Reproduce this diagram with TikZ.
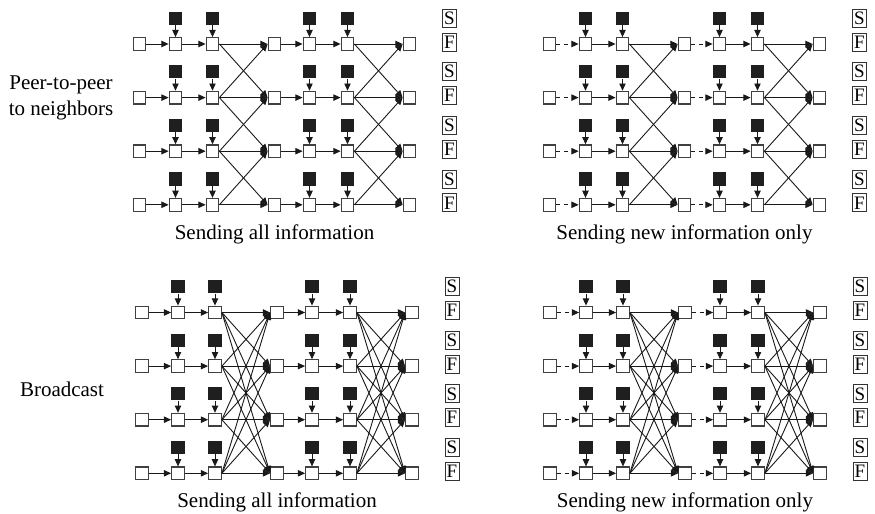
\documentclass[tikz,border=0pt]{standalone}
\usepackage{fontspec}
\setmainfont{Liberation Serif}
\usetikzlibrary{arrows.meta,positioning}
\tikzset{
  cell/.style={draw=black!75,fill=white,line width=0.6pt,minimum size=6.3pt,inner sep=0pt},
  token/.style={fill=black!88,minimum size=6.6pt,inner sep=0pt},
  arrow/.style={-{Triangle[length=3.6pt,width=3.2pt]},line width=0.45pt,draw=black!90},
  plain/.style={},
  broken/.style={dash pattern=on 2pt off 1.8pt},
  flag/.style={draw=black!80,line width=0.5pt,inner sep=0.8pt,minimum width=7pt,minimum height=9pt,font=\fontsize{9.5}{10}\selectfont},
  subtitle/.style={font=\fontsize{10.5}{12}\selectfont},
  rowtitle/.style={align=center,font=\fontsize{10.5}{12.8}\selectfont}
}
\begin{document}
\begin{tikzpicture}[x=0.5pt,y=-0.5pt]
  \useasboundingbox (0,0) rectangle (875,514);
  \node[rowtitle] (peer) at (61,98) {Peer-to-peer\\to neighbors};
  \node[rowtitle] (bcast) at (62,389) {Broadcast};

  \foreach \p/\px/\py/\lk/\bc/\cap in {tl/139.5/44/plain/0/Sending all information,
      tr/549.5/44/broken/0/Sending new information only,
      bl/142/312.5/plain/1/Sending all information,
      br/550/312.5/broken/1/Sending new information only}{
    \foreach \r in {1,...,4}{
      \foreach \c/\cx in {1/0,2/36,3/73,4/135,5/170,6/208,7/270}
        \node[cell] (\p-\r-\c) at ({\px+\cx},{\py+(\r-1)*53.6}) {};
      \foreach \c in {2,3,5,6}{
        \node[token,above=6pt of \p-\r-\c] (\p-\r-\c-in) {};
        \draw[arrow] (\p-\r-\c-in) -- (\p-\r-\c);
      }
      \draw[arrow,\lk] (\p-\r-1) -- (\p-\r-2);
      \draw[arrow] (\p-\r-2) -- (\p-\r-3);
      \draw[arrow,\lk] (\p-\r-4) -- (\p-\r-5);
      \draw[arrow] (\p-\r-5) -- (\p-\r-6);
      \node[flag] (\p-\r-f) at ({\px+310},{\py+(\r-1)*53.6-2}) {F};
      \node[flag,above=2.4pt of \p-\r-f] (\p-\r-s) {S};
    }
    % neighbours only, or every row when broadcasting
    \foreach \r in {1,...,4}
      \foreach \s in {1,...,4}{
        \pgfmathtruncatemacro\ok{or(abs(\r-\s)<2,\bc==1)}
        \ifnum\ok=1
          \draw[arrow] (\p-\r-3.east) -- (\p-\s-4.west);
          \draw[arrow] (\p-\r-6.east) -- (\p-\s-7.west);
        \fi
      }
    \node[subtitle] (\p-cap) at ({\px+135},{\py+190}) {\cap};
  }
\end{tikzpicture}
\end{document}
